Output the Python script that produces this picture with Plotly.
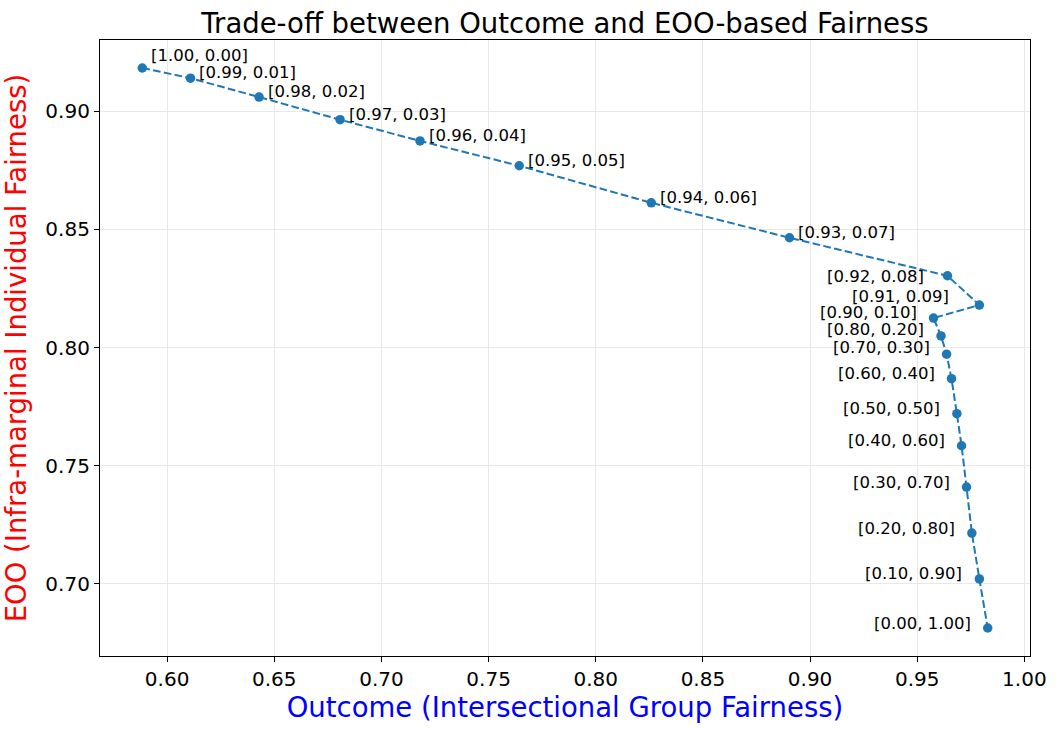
import plotly.graph_objects as go

# Data
outcome = [0.5884, 0.6109, 0.6429, 0.6807, 0.7180, 0.7643, 0.8259, 0.8904,
           0.9641, 0.9790, 0.9576, 0.9611, 0.9637, 0.9660, 0.9685, 0.9707,
           0.9730, 0.9755, 0.9790, 0.9829]
eoo = [0.9184, 0.9141, 0.9061, 0.8965, 0.8875, 0.8770, 0.8613, 0.8465,
       0.8304, 0.8180, 0.8125, 0.8049, 0.7972, 0.7868, 0.7720, 0.7584,
       0.7409, 0.7214, 0.7020, 0.6812]
w_outcome = ["1.00", "0.99", "0.98", "0.97", "0.96", "0.95", "0.94", "0.93",
             "0.92", "0.91", "0.90", "0.80", "0.70", "0.60", "0.50", "0.40",
             "0.30", "0.20", "0.10", "0.00"]
w_eoo = ["0.00", "0.01", "0.02", "0.03", "0.04", "0.05", "0.06", "0.07",
         "0.08", "0.09", "0.10", "0.20", "0.30", "0.40", "0.50", "0.60",
         "0.70", "0.80", "0.90", "1.00"]
x_ticks = [0.60, 0.65, 0.70, 0.75, 0.80, 0.85, 0.90, 0.95, 1.00]
y_ticks = [0.70, 0.75, 0.80, 0.85, 0.90]

# annotation styling (pixel offsets), not data
label_side = ["right"] * 8 + ["left"] * 12
label_dx = [7, 7, 7, 7, 7, 7, 7, 7, -21, -28, -15, -15, -15, -15, -15, -15, -15, -15, -15, -15]
label_dy = [13, 5.5, 5.5, 5.5, 5.5, 5.5, 5.5, 5, -1, 8.5, 5.5, 6, 6.5, 5.5, 5.5, 5, 5, 5, 5, 5]

FONT = "DejaVu Sans"
BLUE = "#1f77b4"
W, H = 1058, 729

fig = go.Figure()
fig.add_trace(go.Scatter(
    x=outcome, y=eoo, mode="lines+markers",
    line=dict(color=BLUE, width=2, dash="7.7px,3.3px"),
    marker=dict(color=BLUE, size=9.5),
    showlegend=False, hoverinfo="x+y",
))

for i in range(len(outcome)):
    fig.add_annotation(
        x=outcome[i], y=eoo[i], text=f"[{w_outcome[i]}, {w_eoo[i]}]",
        showarrow=False,
        xanchor="left" if label_side[i] == "right" else "right",
        yanchor="middle",
        xshift=label_dx[i], yshift=label_dy[i],
        font=dict(family=FONT, size=16.5, color="black"),
    )

def padded(vals):
    lo, hi = min(vals), max(vals)
    m = 0.05 * (hi - lo)
    return [lo - m, hi + m]

fig.update_layout(
    width=W, height=H,
    margin=dict(l=100, r=28, t=40, b=73),
    paper_bgcolor="white", plot_bgcolor="white",
    font=dict(family=FONT, color="black"),
    title=dict(text="Trade-off between Outcome and EOO-based Fairness",
               x=565 / W, xanchor="center", y=1 - 23 / H, yanchor="middle",
               font=dict(family=FONT, size=27.5, color="black")),
)
axis_common = dict(
    showline=True, linecolor="black", linewidth=1.2, mirror=True,
    ticks="outside", ticklen=5, tickwidth=1.2, tickcolor="black",
    showgrid=True, gridcolor="#e8e8e8", gridwidth=1,
    zeroline=False, tickfont=dict(family=FONT, size=20, color="black"),
)
fig.update_xaxes(
    range=padded(outcome), tickvals=x_ticks,
    ticktext=[f"{v:.2f}" for v in x_ticks],
    title=dict(text="Outcome (Intersectional Group Fairness)", standoff=0,
               font=dict(family=FONT, size=27.5, color="blue")),
    **axis_common,
)
fig.update_yaxes(
    range=padded(eoo), tickvals=y_ticks,
    ticktext=[f"{v:.2f}" for v in y_ticks],
    title=dict(text="EOO (Infra-marginal Individual Fairness)", standoff=12,
               font=dict(family=FONT, size=27.5, color="red")),
    **axis_common,
)

fig.write_html(
    "out.html",
    config={"displayModeBar": False},
    post_script="document.body.style.margin='0';document.body.style.overflow='hidden';",
)
